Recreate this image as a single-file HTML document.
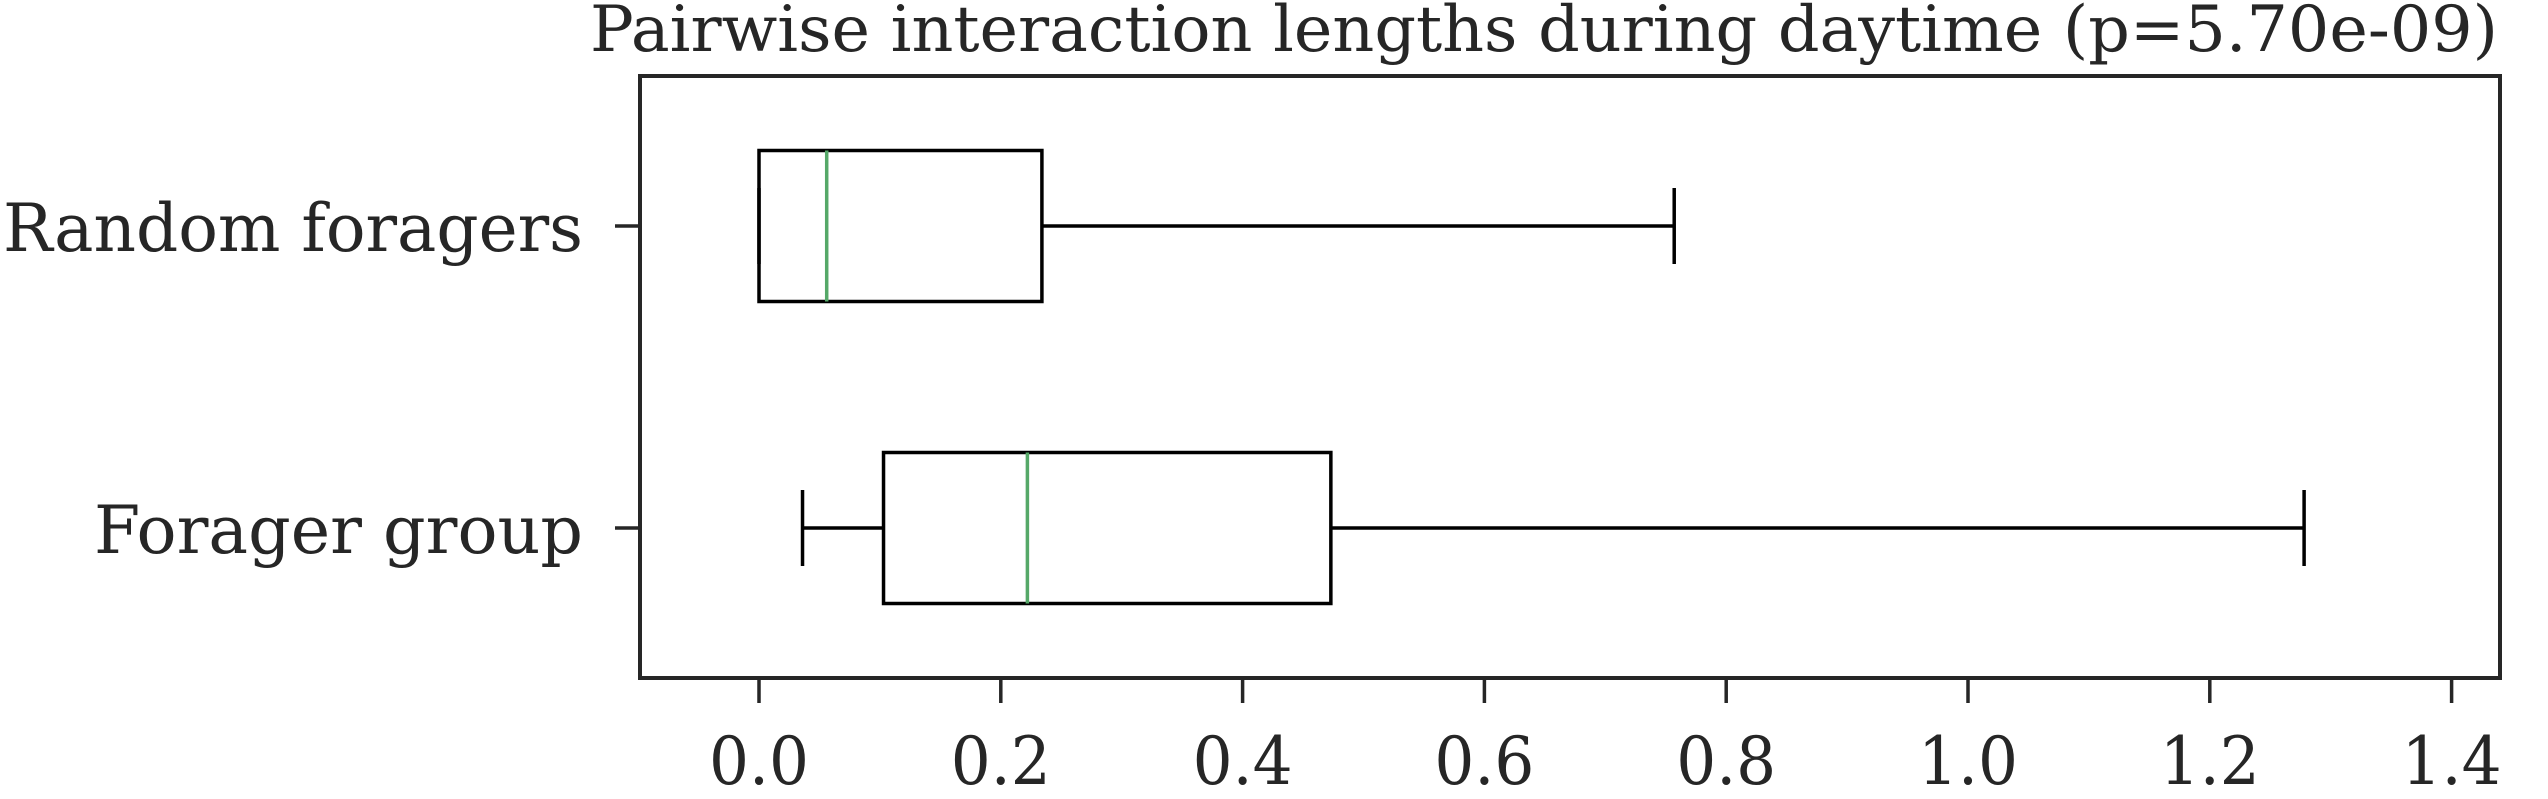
<!DOCTYPE html>
<html><head><meta charset="utf-8"><style>
html,body{margin:0;padding:0;background:#fff;}
svg{display:block;}
text{font-family:"DejaVu Serif","Liberation Serif",serif;fill:#262626;}
</style></head><body>
<svg id="chart" width="2548" height="799" viewBox="0 0 2548 799">
<text x="1544" y="51" font-size="64" text-anchor="middle" textLength="1908" lengthAdjust="spacingAndGlyphs">Pairwise interaction lengths during daytime (p=5.70e-09)</text>
<g id="plot"></g>
<rect x="640" y="76" width="1860" height="602" fill="none" stroke="#262626" stroke-width="4"/>
</svg>
<script>
const categories = ["Random foragers", "Forager group"];
const whiskerLow = [0.0, 0.036];
const q1 = [0.0, 0.103];
const median = [0.056, 0.222];
const q3 = [0.234, 0.473];
const whiskerHigh = [0.757, 1.278];
const xTicks = [0.0, 0.2, 0.4, 0.6, 0.8, 1.0, 1.2, 1.4];
const xTickLabels = ["0.0","0.2","0.4","0.6","0.8","1.0","1.2","1.4"];
const labelWidths = [580, 489];

const NS = "http://www.w3.org/2000/svg";
const plotG = document.getElementById('plot');
const pxPerUnit = 1209, x0px = 759;
function xs(v){ return x0px + v * pxPerUnit; }
const plotBottom = 678;
function ys(i){ return 226 + i * 302; }
const boxH = 151, capH = 76, lw = 3.5;
function mk(tag, attrs){ const e = document.createElementNS(NS, tag); for (const k in attrs) e.setAttribute(k, attrs[k]); plotG.appendChild(e); return e; }

xTicks.forEach((t, i) => {
  const tk = mk('line', {x1: xs(t), x2: xs(t), y1: plotBottom, y2: 703, stroke: '#262626', 'stroke-width': 3.5});
  
  
  const lb = mk('text', {x: xs(t), y: 784, 'font-size': 66, 'text-anchor': 'middle', textLength: 100, lengthAdjust: 'spacingAndGlyphs'});
  lb.textContent = xTickLabels[i];
  
  
});

categories.forEach((c, i) => {
  const y = ys(i);
  const tk = mk('line', {x1: 615, x2: 640, y1: y, y2: y, stroke: '#262626', 'stroke-width': 3.5});
  
  
  const lb = mk('text', {x: 583, y: y + 25, 'font-size': 66, 'text-anchor': 'end', textLength: labelWidths[i], lengthAdjust: 'spacingAndGlyphs'});
  lb.textContent = c;
  
  

  const w1 = mk('line', {x1: xs(whiskerLow[i]), x2: xs(q1[i]), y1: y, y2: y, stroke: '#000', 'stroke-width': lw});
  
  
  const w2 = mk('line', {x1: xs(q3[i]), x2: xs(whiskerHigh[i]), y1: y, y2: y, stroke: '#000', 'stroke-width': lw});
  
  
  const c1 = mk('line', {x1: xs(whiskerLow[i]), x2: xs(whiskerLow[i]), y1: y - capH/2, y2: y + capH/2, stroke: '#000', 'stroke-width': lw});
  
  
  const c2 = mk('line', {x1: xs(whiskerHigh[i]), x2: xs(whiskerHigh[i]), y1: y - capH/2, y2: y + capH/2, stroke: '#000', 'stroke-width': lw});
  
  
  const b = mk('rect', {x: xs(q1[i]), y: y - boxH/2, width: xs(q3[i]) - xs(q1[i]), height: boxH, fill: 'none', stroke: '#000', 'stroke-width': lw});
  
  
  const m = mk('line', {x1: xs(median[i]), x2: xs(median[i]), y1: y - boxH/2, y2: y + boxH/2, stroke: '#55a868', 'stroke-width': lw});
  
  
});
</script>
</body></html>
